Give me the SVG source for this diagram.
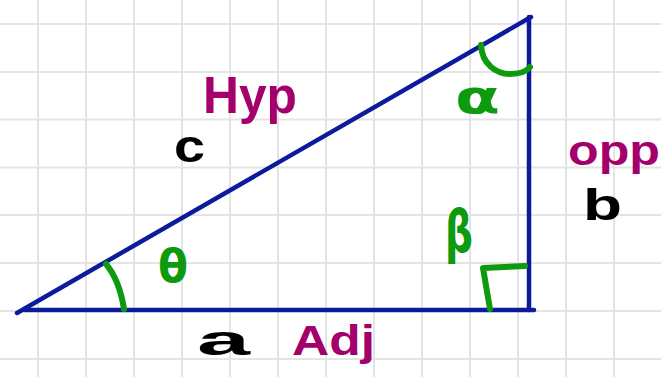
<svg xmlns="http://www.w3.org/2000/svg" width="661" height="377" viewBox="0 0 661 377">
<style>
.grid line{stroke:#e4e4e4;stroke-width:2}
.side{stroke:#0c1a9c;stroke-width:4.5;stroke-linecap:round;fill:none}
.mark{stroke:#0e9a0e;stroke-width:6;stroke-linecap:round;stroke-linejoin:round;fill:none}
text{font-family:"Liberation Sans","DejaVu Sans",sans-serif;font-weight:bold}
.pur{fill:#a3006c}
.blk{fill:#000}
.grn{fill:#0e9a0e;font-family:"DejaVu Sans","Liberation Sans",sans-serif}
</style>
<rect width="661" height="377" fill="#fff"/>
<g class="grid" id="grid">
<line x1="38" y1="0" x2="38" y2="377"/><line x1="86" y1="0" x2="86" y2="377"/><line x1="134" y1="0" x2="134" y2="377"/><line x1="182" y1="0" x2="182" y2="377"/><line x1="230" y1="0" x2="230" y2="377"/><line x1="278" y1="0" x2="278" y2="377"/><line x1="326" y1="0" x2="326" y2="377"/><line x1="374" y1="0" x2="374" y2="377"/><line x1="422" y1="0" x2="422" y2="377"/><line x1="470" y1="0" x2="470" y2="377"/><line x1="518" y1="0" x2="518" y2="377"/><line x1="566" y1="0" x2="566" y2="377"/><line x1="614" y1="0" x2="614" y2="377"/>
<line x1="0" y1="24" x2="661" y2="24"/><line x1="0" y1="72" x2="661" y2="72"/><line x1="0" y1="119.5" x2="661" y2="119.5"/><line x1="0" y1="167.5" x2="661" y2="167.5"/><line x1="0" y1="215" x2="661" y2="215"/><line x1="0" y1="263" x2="661" y2="263"/><line x1="0" y1="311" x2="661" y2="311"/><line x1="0" y1="359" x2="661" y2="359"/>
</g>
<g id="triangle">
<line class="side" x1="17" y1="313" x2="531" y2="17"/>
<line class="side" x1="24" y1="310" x2="534" y2="310"/>
<line class="side" x1="529" y1="17" x2="529" y2="310"/>
</g>
<g id="angle-marks">
<path class="mark" d="M106,264 C116,276 121,290 124,309" stroke-width="7"/>
<path class="mark" d="M481,45 C482,64 496,74 510,74 C520,74 526,72 530,67"/>
<path class="mark" d="M490,309 L483,268 L525,266"/>
</g>
<g id="labels">
<text class="pur" x="203" y="113" font-size="52" textLength="94" lengthAdjust="spacingAndGlyphs">Hyp</text>
<text class="blk" x="174" y="162" font-size="46" textLength="31" lengthAdjust="spacingAndGlyphs">c</text>
<text class="pur" x="568" y="165" font-size="42" textLength="92" lengthAdjust="spacingAndGlyphs">opp</text>
<text class="blk" x="583" y="220" font-size="44" textLength="39" lengthAdjust="spacingAndGlyphs">b</text>
<text class="blk" x="197" y="355" font-size="42" textLength="53" lengthAdjust="spacingAndGlyphs">a</text>
<text class="pur" x="292" y="355" font-size="42" textLength="83" lengthAdjust="spacingAndGlyphs">Adj</text>
<text class="grn" x="158" y="282" font-size="46" textLength="30" lengthAdjust="spacingAndGlyphs">θ</text>
<text class="grn" x="455" y="113" font-size="46" textLength="45" lengthAdjust="spacingAndGlyphs">α</text>
<text class="grn" x="445" y="252" font-size="58" textLength="28" lengthAdjust="spacingAndGlyphs">β</text>
</g>
</svg>
